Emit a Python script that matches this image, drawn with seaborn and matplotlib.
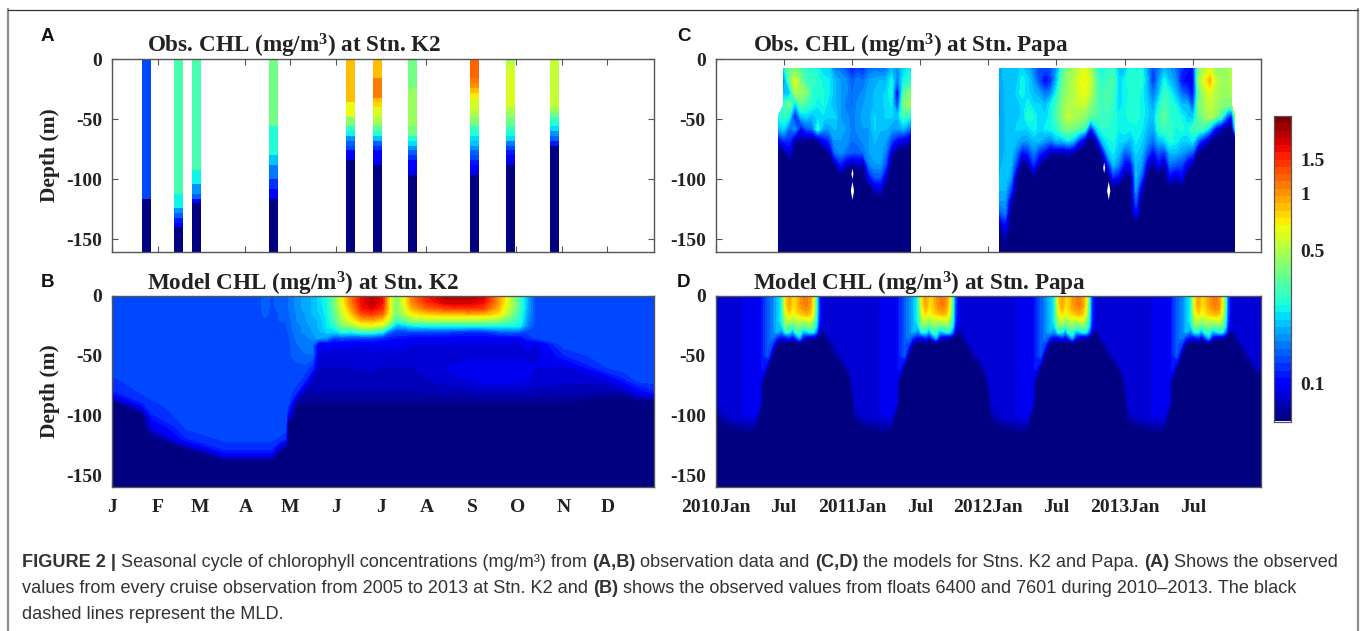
import numpy as np
import pandas as pd
import seaborn as sns
import matplotlib.pyplot as plt
from matplotlib.lines import Line2D

# Months and tick labels
month_days = [0, 31, 59, 90, 120, 151, 181, 212, 243, 273, 304, 334]
month_labels = ["J", "F", "M", "A", "M", "J", "J", "A", "S", "O", "N", "D"]
papa_ticks = [0, 6, 12, 18, 24, 30, 36, 42]
papa_labels = ["2010Jan", "Jul", "2011Jan", "Jul", "2012Jan", "Jul", "2013Jan", "Jul"]
depth_ticks = [0, -50, -100, -150]
cbar_values = [0.1, 0.5, 1, 1.5]
cbar_labels = ["0.1", "0.5", "1", "1.5"]

NAVY = 0.06
nan = float("nan")

# Panel A: cruise profiles, one value for each 4 m of depth
cruise_days = [23, 44, 56, 109, 161, 179, 203, 245, 268, 298]
cruise_profiles = [
    [.13] * 29 + [NAVY] * 11,
    [.33] * 28 + [.25] * 3 + [.17, .14, .11, .1] + [NAVY] * 5,
    [.33] * 23 + [.25] * 3 + [.18, .18, .14, .1] + [NAVY] * 10,
    [.38] * 14 + [.27] * 6 + [.2] * 2 + [.16] * 3 + [.12] * 2 + [.1] * 2 + [NAVY] * 11,
    [.88] * 9 + [.65] * 3 + [.42, .42, .3, .25, .18, .15, .13, .1, .09] + [NAVY] * 19,
    [.88] * 4 + [1.1] * 4 + [.88, .8, .62, .6, .5, .45, .35, .28, .2, .14, .12, .1, .1, .09] + [NAVY] * 18,
    [.38] * 6 + [.45] * 8 + [.4, .4, .27, .22, .17, .14, .12, .1, .1, .09] + [NAVY] * 16,
    [1.2] * 4 + [1.1, 1.0, .88, .7, .62, .62, .55, .5, .42, .38, .3, .26, .22, .2, .17, .15, .13, .11, .1, .09] + [NAVY] * 16,
    [.5, .55, .58, .58, .58] + [.62] * 5 + [.5, .45, .4, .38, .3, .26, .22, .16, .13, .11, .1, .09] + [NAVY] * 18,
    [.55] * 10 + [.45, .4, .3, .27, .22, .18, .14, .11] + [NAVY] * 22,
]

# Panel B: model at K2, columns are days, values run down depth_k2
depth_k2 = [0, 5, 10, 15, 20, 25, 30, 35, 40, 50, 60, 70, 80, 90, 100, 110, 120, 130, 140, 160]
L = .135
k2_days = [0, 20, 27, 50, 76, 100, 103, 107, 113, 117, 118.5, 124, 130, 135, 139, 145, 150, 155,
           161, 168, 175, 182, 187, 191, 195, 202, 212, 225, 240, 250, 260, 268, 275, 280, 285,
           304, 330, 345, 355, 365]
k2_columns = [
    [L] * 11 + [.125, .115, .06],
    [L] * 12 + [.13, .115, .06],
    [L] * 13 + [.125, .115, .09, .06],
    [L] * 15 + [.13, .115, .06],
    [L] * 16 + [.13, .115, .06],
    [L] * 16 + [.13, .115, .06],
    [.15, .15, .15, .145] + [L] * 12 + [.13, .115, .06],
    [L] * 16 + [.13, .115, .06],
    [.145, .145, .145, .14, .14] + [L] * 11 + [.125, .07, .06],
    [.15, .15, .15, .145, .145] + [L] * 11 + [.115, .06],
    [.15, .15, .15, .15, .145, .145, .14] + [L] * 7 + [.1, .06],
    [.17, .17, .17, .165, .165, .16, .16, .155, .15, .145, L, L, .12, .07, .06],
    [.19, .19, .19, .18, .18, .17, .17, .16, .16, .15, L, .12, .076, .068, .06],
    [.2, .2, .2, .2, .19, .19, .18, .17, .16, .15, .12, .08, .076, .068, .06],
    [.22, .22, .22, .21, .2, .2, .19, .19, .095, .084, .082, .08, .076, .068, .06],
    [.27, .26, .25, .25, .24, .24, .22, .17, .1, .084, .082, .08, .076, .068, .06],
    [.4, .4, .38, .35, .33, .28, .22, .13, .095, .084, .082, .08, .076, .068, .06],
    [.65, .65, .6, .55, .5, .4, .27, .14, .095, .084, .082, .08, .076, .068, .06],
    [1.1, 1.1, .95, .8, .65, .45, .26, .13, .095, .084, .082, .08, .076, .068, .06],
    [1.7, 1.7, 1.6, 1.3, .9, .6, .3, .13, .095, .084, .083, .08, .076, .068, .06],
    [2.0, 2.0, 1.8, 1.4, .95, .6, .3, .13, .095, .084, .083, .08, .076, .068, .06],
    [1.7, 1.7, 1.5, 1.2, .8, .55, .25, .12, .095, .084, .082, .08, .076, .068, .06],
    [.7, .7, .7, .65, .55, .32, .15, .11, .095, .084, .082, .08, .076, .068, .06],
    [.38, .38, .38, .38, .3, .2, .13, .11, .095, .084, .082, .08, .076, .068, .06],
    [.55, .55, .52, .45, .35, .2, .13, .11, .095, .084, .082, .08, .076, .068, .06],
    [1.1, 1.05, .9, .7, .45, .24, .13, .1, .09, .084, .082, .08, .076, .068, .06],
    [1.6, 1.5, 1.2, .8, .5, .25, .13, .1, .09, .084, .085, .082, .076, .068, .06],
    [2.1, 1.9, 1.4, .85, .5, .26, .13, .1, .09, .085, .09, .086, .078, .068, .06],
    [2.1, 1.9, 1.5, .9, .5, .26, .12, .1, .09, .087, .094, .09, .078, .068, .06],
    [1.9, 1.7, 1.4, .9, .5, .26, .12, .1, .09, .087, .096, .094, .08, .068, .06],
    [1.0, 1.0, .9, .75, .45, .26, .14, .1, .09, .087, .096, .094, .08, .068, .06],
    [.55, .55, .52, .45, .35, .26, .15, .1, .09, .087, .096, .094, .08, .068, .06],
    [.3, .3, .3, .28, .27, .24, .14, .1, .088, .087, .096, .092, .08, .068, .06],
    [.19, .19, .19, .18, .17, .16, .13, .12, .095, .086, .092, .09, .08, .068, .06],
    [L, L, L, L, L, L, L, .13, .088, .085, .09, .087, .078, .068, .06],
    [L] * 9 + [.115, .085, .085, .078, .068, .06],
    [L] * 10 + [.125, .085, .076, .06],
    [L] * 11 + [.115, .078, .06],
    [L] * 12 + [.1, .06],
    [L] * 12 + [.115, .06],
]

# Panel C: float data at Papa, columns are months, values run down depth_float
depth_float = [8, 18, 28, 38, 48, 58, 68, 78, 88, 98, 108, 118, 128, 138, 160]
float_months_1 = [5.5, 6, 6.5, 7, 7.5, 8, 8.5, 9, 9.5, 10, 10.5, 11, 11.5, 12, 12.5, 13, 13.5,
                  14, 14.5, 15, 15.5, 16, 16.5, 17, 17.2]
float_columns_1 = [
    [nan, nan, nan, nan, .25, .2, .09],
    [.22, .16, .2, .3, .3, .22, .12],
    [.4, .35, .2, .38, .25, .15, .12, .09],
    [.4, .62, .5, .2, .1, .18, .07],
    [.33, .4, .45, .35, .2, .1, .07],
    [.28, .3, .42, .3, .22, .14, .07],
    [.27, .3, .28, .27, .2, .15],
    [.25, .27, .26, .24, .22, .28, .07],
    [.22, .25, .26, .26, .23, .18, .1],
    [.22, .24, .24, .22, .22, .18, .12, .07],
    [.16, .2, .2, .2, .22, .2, .18, .15, .07],
    [.16, .18, .18, .18, .18, .19, .18, .17, .11],
    [.14, .17, .17, .16, .17, .18, .18, .15, .08],
    [.11, .14, .15, .15, .16, .16, .15, .14, .07],
    [.13, .16, .16, .17, .17, .17, .16, .14, .08],
    [.12, .15, .17, .18, .19, .18, .17, .15, .07],
    [.15, .18, .19, .19, .19, .18, .18, .18, .16, .1],
    [.16, .19, .2, .2, .22, .22, .2, .19, .18, .14, .08],
    [.15, .2, .21, .21, .2, .2, .19, .19, .18, .14, .09],
    [.16, .2, .22, .22, .22, .2, .18, .16, .13, .08],
    [.2, .25, .26, .24, .22, .18, .13, .08],
    [.17, .15, .09, .12, .2, .18, .1],
    [.22, .24, .3, .38, .3, .2, .09],
    [.24, .28, .42, .45, .28, .16, .08],
    [.22, .25, .35, .4, .25, .14, .07],
]
float_months_2 = [25, 25.5, 26, 26.5, 27, 27.5, 28, 28.5, 29, 29.5, 30, 30.5, 31, 31.5, 32, 32.5,
                  33, 33.5, 34, 34.5, 35, 35.5, 36, 36.5, 37, 37.5, 38, 38.5, 39, 39.5, 40, 40.5,
                  41, 41.5, 42, 42.5, 43, 43.5, 44, 44.5, 45, 45.4, 45.7]
float_columns_2 = [
    [.19, .18, .18, .18, .18, .19, .19, .19, .19, .2, .2, .18, .14, .07],
    [.21, .21, .2, .2, .2, .2, .2, .2, .21, .21, .2, .18, .16, .1],
    [.2, .2, .2, .2, .2, .2, .21, .21, .2, .18, .13, .08],
    [.21, .21, .22, .21, .21, .22, .2, .16, .12, .07],
    [.22, .25, .25, .22, .22, .22, .18, .1],
    [.2, .22, .22, .25, .28, .22, .18, .12, .07],
    [.16, .18, .2, .22, .26, .25, .2, .16, .12, .07],
    [.13, .13, .18, .22, .22, .22, .2, .12, .07],
    [.13, .1, .15, .2, .22, .24, .18, .1],
    [.14, .12, .17, .25, .25, .25, .16, .07],
    [.18, .2, .25, .3, .32, .28, .2, .08],
    [.3, .35, .38, .42, .42, .35, .2, .07],
    [.42, .45, .45, .5, .55, .4, .24, .08],
    [.45, .5, .5, .52, .5, .38, .2, .07],
    [.55, .6, .6, .55, .45, .35, .12],
    [.62, .68, .65, .55, .42, .3, .08],
    [.5, .55, .52, .42, .35, .1],
    [.3, .35, .35, .35, .32, .22, .08],
    [.25, .27, .3, .3, .3, .28, .2, .08],
    [.3, .3, .33, .33, .3, .28, .25, .2, .1],
    [.3, .32, .3, .28, .28, .28, .26, .24, .2, .12],
    [.2, .22, .22, .22, .24, .24, .22, .2, .16, .1],
    [.2, .25, .25, .25, .25, .25, .22, .14, .1, .07],
    [.27, .28, .26, .27, .27, .24, .2, .16, .1],
    [.25, .27, .28, .27, .27, .25, .24, .22, .2, .2, .18, .14, .1],
    [.26, .27, .25, .25, .25, .24, .22, .2, .18, .14, .08],
    [.18, .2, .2, .22, .22, .2, .18, .14, .09],
    [.13, .12, .15, .18, .2, .18, .15, .1, .07],
    [.16, .18, .2, .25, .3, .28, .2, .14, .1],
    [.2, .25, .3, .32, .35, .3, .22, .12, .07],
    [.18, .2, .25, .28, .28, .3, .27, .2, .15, .1],
    [.16, .17, .2, .25, .28, .25, .25, .2, .14, .08],
    [.12, .11, .15, .2, .25, .27, .22, .18, .13, .1],
    [.11, .1, .13, .2, .22, .25, .22, .16, .09],
    [.1, .09, .1, .13, .2, .3, .24, .14, .07],
    [.4, .45, .35, .4, .35, .32, .14],
    [.5, .62, .5, .45, .42, .3, .1],
    [.6, .88, .62, .55, .5, .2, .07],
    [.45, .55, .5, .48, .42, .1],
    [.42, .48, .45, .42, .3, .08],
    [.45, .45, .45, .42, .15],
    [.5, .5, .48, .4, .1],
    [nan, nan, nan, nan, .4, .22],
]
hole_months = [12.05, 12.05, 34.2, 34.6]
hole_depths = [-95.5, -109.5, -90.5, -109.5]
hole_sizes = [60, 170, 60, 170]

# Panel D: model at Papa, one year of columns, the forcing repeats each year
depth_papa = [0, 5, 10, 15, 20, 25, 30, 35, 40, 50, 60, 70, 80, 90, 100, 110, 120, 160]
papa_months = [0, .3, 1.1, 3, 3.5, 3.9, 4.2, 4.6, 5, 5.4, 5.8, 6, 6.2, 6.5, 6.8, 7.1, 7.4, 7.7,
               8, 8.3, 8.6, 8.9, 9.1, 9.4, 10, 10.5, 11.2, 11.75]
papa_columns = [
    [.085] * 12 + [.07],
    [.085] * 14 + [.075],
    [.085] * 15 + [.068],
    [.092] * 15 + [.075],
    [.095] * 15 + [.07],
    [.095] * 13 + [.09],
    [.115] * 11 + [.07],
    [.14] * 10 + [.07],
    [.16] * 8 + [.13, .07],
    [.2] * 7 + [.12, .07],
    [.25, .25, .25, .25, .25, .22, .16, .1],
    [.45, .45, .42, .4, .35, .3, .2, .1],
    [.75, .75, .7, .6, .5, .4, .28, .1],
    [.95, .95, .88, .75, .55, .38, .25, .12],
    [.75, .75, .7, .6, .45, .3, .18, .09],
    [.78, .78, .78, .72, .55, .38, .3, .13],
    [.95, .95, .9, .78, .55, .4, .3, .2],
    [1.05, 1.05, 1.0, .82, .55, .35, .2, .1],
    [1.1, 1.1, 1.05, .88, .6, .38, .22, .08],
    [1.0, 1.0, .95, .82, .6, .4, .26, .08],
    [.7, .7, .65, .6, .45, .35, .25, .08],
    [.28, .28, .28, .26, .25, .22, .15, .07],
    [.13, .13, .13, .13, .12, .11, .085],
    [.09, .09, .09, .09, .09, .09, .07],
    [.085] * 8 + [.068],
    [.085] * 9 + [.068],
    [.085] * 10 + [.065],
    [.085] * 11,
]

figure_letters = ["A", "B", "C", "D"]
panel_titles = [
    r"Obs. CHL (mg/m$^{3}$) at Stn. K2",
    r"Model CHL (mg/m$^{3}$) at Stn. K2",
    r"Obs. CHL (mg/m$^{3}$) at Stn. Papa",
    r"Model CHL (mg/m$^{3}$) at Stn. Papa",
]

# Log10 colour range of the shared colour bar
LOG_MIN = -1.2
LOG_MAX = 0.405

sns.set_style("white")
plt.rcParams["font.family"] = ["Liberation Serif", "DejaVu Serif"]
plt.rcParams["mathtext.fontset"] = "custom"
plt.rcParams["mathtext.bf"] = "Liberation Serif:bold"
plt.rcParams["mathtext.rm"] = "Liberation Serif:bold"
plt.rcParams["mathtext.default"] = "bf"

W, H = 1360, 631
FRAME = "#555555"
TICK_FONT = 14
jet = plt.get_cmap("jet", 42)
levels = np.linspace(LOG_MIN, LOG_MAX, 43)

fig = plt.figure(figsize=(W / 100, H / 100), dpi=100, facecolor="white")


def px_axes(left, top, right, bottom):
    return fig.add_axes([left / W, 1 - bottom / H, (right - left) / W, (bottom - top) / H])


def to_grid(columns, n_rows):
    # columns stop at the navy deep water, so fill them down to the last row
    filled = [col + [NAVY] * (n_rows - len(col)) for col in columns]
    return np.log10(np.array(filled, dtype=float)).T


def finish_axes(ax, xticks, xlabels, ylim_ticks, ylabels):
    for spine in ax.spines.values():
        spine.set_visible(True)
        spine.set_color(FRAME)
        spine.set_linewidth(1)
    ax.set_xticks(xticks)
    ax.set_yticks(ylim_ticks)
    ax.set_xticklabels(xlabels, fontsize=TICK_FONT, fontweight="bold", rotation=0)
    ax.set_yticklabels(ylabels, fontsize=TICK_FONT, fontweight="bold", rotation=0)
    ax.tick_params(direction="in", top=True, right=True, bottom=True, left=True,
                   length=4, width=0.8, color=FRAME, labelcolor="#222222")
    ax.tick_params(axis="x", pad=9)
    ax.tick_params(axis="y", pad=7)
    ax.set_xlabel("")
    ax.set_ylabel("")


depth_labels = [str(d) for d in depth_ticks]

ax_a = px_axes(112, 59, 654, 251.5)
ax_b = px_axes(112, 296, 654, 487)
ax_c = px_axes(715.5, 59, 1261, 251.5)
ax_d = px_axes(715.5, 296, 1261, 487)
cax = px_axes(1274, 116, 1291, 421.5)

# Panel A is a 2 day by 4 m heatmap, white where there was no cruise
cruise_table = pd.DataFrame(np.nan, index=np.arange(40) * 4, columns=np.arange(183) * 2)
for day, profile in zip(cruise_days, cruise_profiles):
    col = day // 2
    cruise_table.iloc[:, col - 1:col + 2] = np.log10(np.array(profile))[:, None]
sns.heatmap(cruise_table, ax=ax_a, cmap=jet, vmin=LOG_MIN, vmax=LOG_MAX, cbar_ax=cax,
            xticklabels=False, yticklabels=False)
finish_axes(ax_a, [d / 2 for d in month_days], [""] * 12,
            [-d / 4 for d in depth_ticks], depth_labels)

# Panel B
k2_grid = to_grid(k2_columns, len(depth_k2))
ax_b.contourf(k2_days, -np.array(depth_k2), k2_grid, levels=levels, cmap=jet, extend="both")
ax_b.set_xlim(0, 365)
ax_b.set_ylim(-160, 0)
finish_axes(ax_b, month_days, month_labels, depth_ticks, depth_labels)

# Panel C
ax_c.contourf(float_months_1, -np.array(depth_float), to_grid(float_columns_1, len(depth_float)),
              levels=levels, cmap=jet, extend="both")
ax_c.contourf(float_months_2, -np.array(depth_float), to_grid(float_columns_2, len(depth_float)),
              levels=levels, cmap=jet, extend="both")
hole_marker = [(0, 1), (.18, 0), (0, -1), (-.18, 0), (0, 1)]
ax_c.scatter(hole_months, hole_depths, s=hole_sizes, c="white", marker=hole_marker, linewidths=0)
ax_c.set_xlim(0, 48)
ax_c.set_ylim(-160, 0)
finish_axes(ax_c, papa_ticks, [""] * 8, depth_ticks, depth_labels)

# Panel D
year_grid = to_grid(papa_columns, len(depth_papa))
all_months = np.concatenate([np.array(papa_months) + 12 * y for y in range(4)] + [[48]])
all_grid = np.hstack([year_grid] * 4 + [year_grid[:, -1:]])
ax_d.contourf(all_months, -np.array(depth_papa), all_grid, levels=levels, cmap=jet, extend="both")
ax_d.set_xlim(0, 48)
ax_d.set_ylim(-160, 0)
finish_axes(ax_d, papa_ticks, papa_labels, depth_ticks, depth_labels)

# Colour bar from the heatmap
cax.set_yticks(np.log10(cbar_values))
cax.set_yticklabels(cbar_labels, fontsize=TICK_FONT, fontweight="bold")
cax.tick_params(axis="y", direction="in", right=True, left=False, length=3, width=0.8,
                color=FRAME, labelcolor="#222222", pad=7)
for spine in cax.spines.values():
    spine.set_visible(True)
    spine.set_color(FRAME)
    spine.set_linewidth(0.8)

# Titles and letters
title_spots = [(147, 53), (147, 290), (753, 53), (753, 290)]
letter_spots = [(41, 41), (41, 287), (677, 41), (677, 287)]
for letter, title, (tx, ty), (lx, ly) in zip(figure_letters, panel_titles, title_spots, letter_spots):
    fig.text(tx / W, 1 - ty / H, title, fontsize=16.7, fontweight="bold", color="#222222", va="baseline")
    fig.text(lx / W, 1 - ly / H, letter, fontsize=13.5, fontweight="bold", family="Liberation Sans",
             color="#111111", va="baseline")
for y_mid in [155, 391]:
    fig.text(50 / W, 1 - y_mid / H, "Depth (m)", rotation=90, fontsize=15.5, fontweight="bold",
             color="#222222", ha="center", va="center")

# Caption, runs of plain and bold text
caption_lines = [
    (567, [("FIGURE 2 | ", True), ("Seasonal cycle of chlorophyll concentrations (mg/m³) from ", False),
           ("(A,B)", True), (" observation data and ", False), ("(C,D)", True),
           (" the models for Stns. K2 and Papa. ", False), ("(A)", True),
           (" Shows the observed", False)]),
    (593, [("values from every cruise observation from 2005 to 2013 at Stn. K2 and ", False), ("(B)", True),
           (" shows the observed values from floats 6400 and 7601 during 2010–2013. The black", False)]),
    (619, [("dashed lines represent the MLD.", False)]),
]
renderer = fig.canvas.get_renderer()
for base, runs in caption_lines:
    x = 22.0
    for text, bold in runs:
        t = fig.text(x / W, 1 - base / H, text.replace(" ", "\u00a0"), fontsize=13.1, family="Liberation Sans",
                     fontweight="bold" if bold else "normal", color="#333333", va="baseline")
        x += t.get_window_extent(renderer).width

# Page frame around the figure
fig.add_artist(Line2D([7.5 / W, 7.5 / W], [0, 1 - 9 / H], color="#8c8c8c", lw=1.6))
fig.add_artist(Line2D([1357.5 / W, 1357.5 / W], [0, 1 - 9 / H], color="#8c8c8c", lw=1.6))
fig.add_artist(Line2D([7.5 / W, 1357.5 / W], [1 - 9.5 / H, 1 - 9.5 / H], color="#333333", lw=0.9))

fig.savefig("out.png", dpi=100, facecolor="white")
